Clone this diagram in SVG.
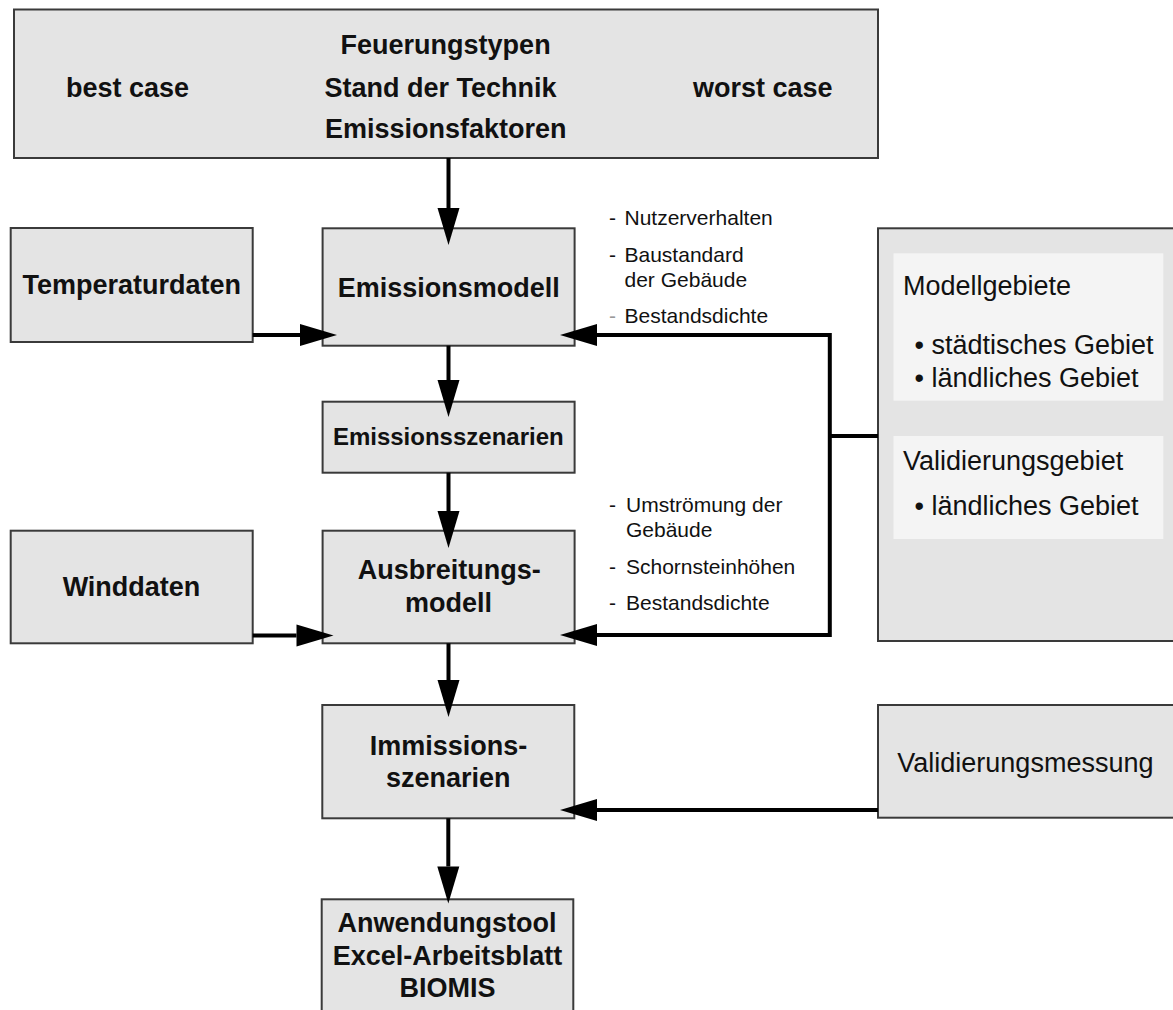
<svg xmlns="http://www.w3.org/2000/svg" width="1173" height="1010" viewBox="0 0 1173 1010">
<style>
.box{fill:#e4e4e4;stroke:#3a3a3a;stroke-width:2}
.panel{fill:#f4f4f4;stroke:none}
.b{font-family:"Liberation Sans",Arial,sans-serif;font-weight:bold;font-size:27px;fill:#111}
.r{font-family:"Liberation Sans",Arial,sans-serif;font-size:27px;fill:#111}
.s{font-family:"Liberation Sans",Arial,sans-serif;font-size:21px;fill:#111}
.c{text-anchor:middle}
.conn{fill:none;stroke:#000;stroke-width:4;stroke-linejoin:miter;marker-end:url(#ah)}
.plain{fill:none;stroke:#000;stroke-width:4}
</style>
<defs>
<marker id="ah" markerUnits="userSpaceOnUse" markerWidth="38" markerHeight="22" refX="0" refY="11" orient="auto" overflow="visible">
<path d="M0,0 L37,11 L0,22 z" fill="#000"/>
</marker>
</defs>
<rect width="1173" height="1010" fill="#fff"/>
<g id="top">
<rect class="box" x="14" y="9.5" width="864" height="148.5"/>
<text class="b" x="66" y="97">best case</text>
<text class="b" x="340.6" y="54">Feuerungstypen</text>
<text class="b" x="324.5" y="97">Stand der Technik</text>
<text class="b" x="325" y="138">Emissionsfaktoren</text>
<text class="b" x="693" y="97">worst case</text>
</g>
<g id="temperaturdaten">
<rect class="box" x="10.7" y="228" width="242" height="114"/>
<text class="b c" x="131.7" y="294">Temperaturdaten</text>
</g>
<g id="emissionsmodell">
<rect class="box" x="322.6" y="228.3" width="252" height="117.4"/>
<text class="b c" x="448.7" y="297">Emissionsmodell</text>
</g>
<g id="emissionsszenarien">
<rect class="box" x="322.6" y="401.7" width="252" height="71"/>
<text class="b c" x="448.3" y="445" style="font-size:24px">Emissionsszenarien</text>
</g>
<g id="winddaten">
<rect class="box" x="10.7" y="530.7" width="242" height="112.6"/>
<text class="b c" x="131.5" y="596">Winddaten</text>
</g>
<g id="ausbreitungsmodell">
<rect class="box" x="322.6" y="530.7" width="252" height="112.6"/>
<text class="b c" x="449.3" y="579.3">Ausbreitungs-</text>
<text class="b c" x="448.4" y="611.7">modell</text>
</g>
<g id="immissionsszenarien">
<rect class="box" x="322.3" y="705" width="252" height="113.3"/>
<text class="b c" x="448.5" y="755">Immissions-</text>
<text class="b c" x="448.2" y="786.7">szenarien</text>
</g>
<g id="anwendungstool">
<rect class="box" x="321.7" y="899.3" width="251.6" height="125"/>
<text class="b c" x="447" y="931.7">Anwendungstool</text>
<text class="b c" x="447.5" y="965">Excel-Arbeitsblatt</text>
<text class="b c" x="447.5" y="996.7">BIOMIS</text>
</g>
<g id="gebiete">
<rect class="box" x="878" y="228.3" width="310" height="412.7"/>
<rect class="panel" x="893.5" y="253.3" width="269.8" height="147.4"/>
<rect class="panel" x="893.5" y="436" width="269.8" height="103"/>
<text class="r" x="903" y="295">Modellgebiete</text>
<text class="r" x="914.5" y="354">• städtisches Gebiet</text>
<text class="r" x="914.5" y="386.7">• ländliches Gebiet</text>
<text class="r" x="903" y="470">Validierungsgebiet</text>
<text class="r" x="914.5" y="515">• ländliches Gebiet</text>
</g>
<g id="validierungsmessung">
<rect class="box" x="878" y="705" width="310" height="112.7"/>
<text class="r" x="897.3" y="771.7">Validierungsmessung</text>
</g>
<g id="notes1">
<text class="s" x="609" y="225">-</text>
<text class="s" x="624.5" y="225">Nutzerverhalten</text>
<text class="s" x="609" y="261.7">-</text>
<text class="s" x="624.5" y="261.7">Baustandard</text>
<text class="s" x="624.5" y="286.7">der Gebäude</text>
<text class="s" x="609" y="323" style="fill:#999">-</text>
<text class="s" x="624.5" y="323">Bestandsdichte</text>
</g>
<g id="notes2">
<text class="s" x="609" y="511.7">-</text>
<text class="s" x="626" y="511.7">Umströmung der</text>
<text class="s" x="626" y="536.7">Gebäude</text>
<text class="s" x="609" y="574">-</text>
<text class="s" x="626" y="574">Schornsteinhöhen</text>
<text class="s" x="609" y="610">-</text>
<text class="s" x="626" y="610">Bestandsdichte</text>
</g>
<g id="connectors">
<path class="conn" d="M448.5,158 V208"/>
<path class="conn" d="M448.5,345.7 V380"/>
<path class="conn" d="M448.5,472.7 V511"/>
<path class="conn" d="M448.5,643.3 V680"/>
<path class="conn" d="M448.3,818.3 V866.5"/>
<path class="conn" d="M252.7,335 H300"/>
<path class="conn" d="M252.7,635.5 H296.5"/>
<path class="conn" d="M829.8,436 V335 H597"/>
<path class="conn" d="M829.8,436 V635 H597"/>
<path class="plain" d="M878,436 H829.8"/>
<path class="conn" d="M878,810 H597"/>
</g>
</svg>
